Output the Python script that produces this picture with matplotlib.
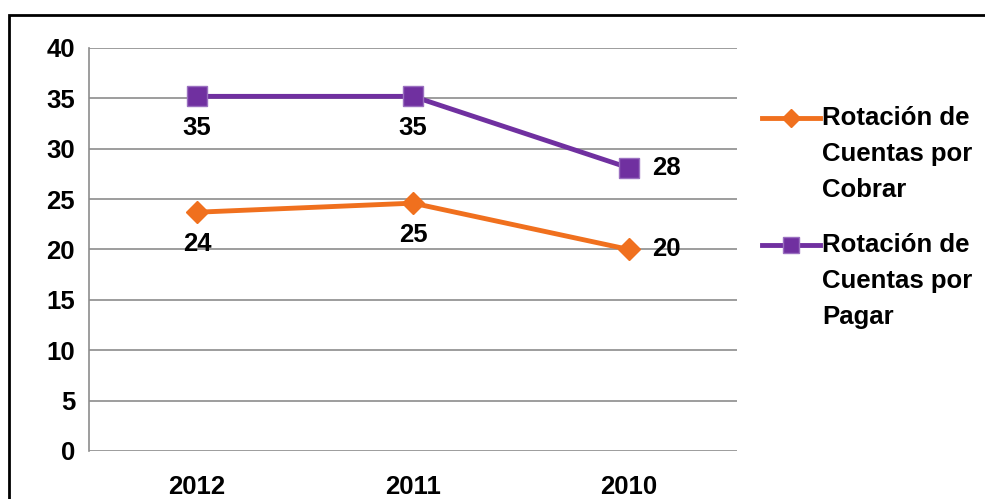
import matplotlib.pyplot as plt
from matplotlib.lines import Line2D
from matplotlib.patches import Rectangle

# datos de rotación por año
anios = ['2012', '2011', '2010']
cobrar = [23.7, 24.6, 20.0]
pagar = [35.2, 35.2, 28.1]
nombres = ['Rotación de\nCuentas por\nCobrar', 'Rotación de\nCuentas por\nPagar']

naranja = '#F0701E'
morado = '#7030A0'
fs = 18.5

plt.rcParams['font.family'] = ['Liberation Sans', 'DejaVu Sans']
plt.rcParams['font.weight'] = 'bold'

fig = plt.figure(figsize=(9.85, 4.99), dpi=100)
ax = fig.add_axes([89 / 985, 1 - 451 / 499, 648 / 985, 403 / 499])

x = [i + 0.5 for i in range(len(anios))]
ax.plot(x, cobrar, color=naranja, lw=3.5, marker='D', ms=11, mec=naranja, zorder=3)
ax.plot(x, pagar, color=morado, lw=3.5, marker='s', ms=14, mec='#9a70c0', zorder=3)

ax.set_xlim(0, 3)
ax.set_ylim(0, 40)
ax.set_yticks(range(0, 41, 5))
ax.set_xticks(x)
ax.set_xticklabels(anios)
ax.tick_params(length=0, labelsize=fs, pad=10)
ax.tick_params(axis='x', pad=17)
ax.grid(axis='y', color='#8c8c8c', lw=1.2)
ax.set_axisbelow(True)
for s in ['top', 'right', 'bottom']:
    ax.spines[s].set_visible(False)
ax.spines['left'].set_color('#8c8c8c')
ax.spines['left'].set_linewidth(1.2)

# etiquetas de valores
for i, (c, p) in enumerate(zip(cobrar, pagar)):
    if i < 2:
        ax.annotate('%.0f' % p, (x[i], p), xytext=(0, -14), textcoords='offset points',
                    ha='center', va='top', fontsize=fs)
        ax.annotate('%.0f' % c, (x[i], c), xytext=(0, -14), textcoords='offset points',
                    ha='center', va='top', fontsize=fs)
    else:
        ax.annotate('%.0f' % p, (x[i], p), xytext=(17, 0), textcoords='offset points',
                    ha='left', va='center', fontsize=fs)
        ax.annotate('%.0f' % c, (x[i], c), xytext=(17, 0), textcoords='offset points',
                    ha='left', va='center', fontsize=fs)

# leyenda dibujada a mano
leg = [(naranja, 'D', 9, naranja, 118), (morado, 's', 11, '#9a70c0', 245)]
for (col, mk, ms, mec, yy), nom in zip(leg, nombres):
    yf = 1 - yy / 499
    fig.add_artist(Line2D([762 / 985, 820 / 985], [yf, yf], color=col, lw=3.5,
                          transform=fig.transFigure))
    fig.add_artist(Line2D([791 / 985], [yf], color=col, marker=mk, ms=ms, mec=mec,
                          transform=fig.transFigure))
    fig.text(822 / 985, yf + 12 / 499, nom, ha='left', va='top', fontsize=fs,
             linespacing=1.62)

# marco exterior
fig.add_artist(Rectangle((9 / 985, -0.1), 1.2, 1 - 15 / 499 + 0.1, fill=False,
                         ec='black', lw=2, transform=fig.transFigure))

fig.savefig('out.png', dpi=100)
